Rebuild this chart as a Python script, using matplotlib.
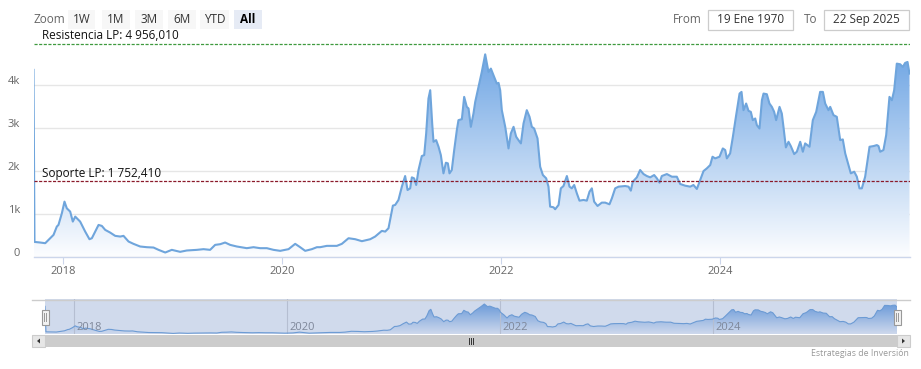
import numpy as np
import matplotlib
matplotlib.use("Agg")
import matplotlib.pyplot as plt
from matplotlib.patches import Rectangle, Polygon
from matplotlib.transforms import ScaledTranslation

plt.rcParams['font.family'] = ['Open Sans', 'DejaVu Sans']

# ---------------- data (decimal year, price) ----------------
years_a = [2017.729, 2017.738, 2017.790, 2017.836, 2017.881, 2017.912, 2017.942, 2017.957, 2017.988, 2018.012,
           2018.033, 2018.064, 2018.088, 2018.110, 2018.155, 2018.201, 2018.240, 2018.262, 2018.323, 2018.353,
           2018.384, 2018.429, 2018.475, 2018.521, 2018.551, 2018.597, 2018.642, 2018.703, 2018.764, 2018.825,
           2018.871, 2018.932, 2018.992, 2019.068, 2019.129, 2019.221, 2019.282, 2019.342, 2019.388, 2019.434,
           2019.479, 2019.525, 2019.586, 2019.677, 2019.738, 2019.799, 2019.860, 2019.921, 2019.982, 2020.058,
           2020.119, 2020.164, 2020.210, 2020.271, 2020.317]
values_a = [4350, 340, 326, 310, 426, 504, 698, 736, 1008, 1279,
            1124, 1047, 814, 930, 814, 581, 403, 426, 736, 713,
            620, 558, 481, 465, 481, 349, 295, 233, 217, 209,
            155, 93, 155, 109, 140, 155, 171, 155, 271, 287,
            326, 271, 233, 194, 217, 194, 194, 155, 132, 171,
            295, 217, 132, 171, 217]

years_b = [2020.347, 2020.408, 2020.499, 2020.545, 2020.606, 2020.667, 2020.728, 2020.804, 2020.849, 2020.910,
           2020.941, 2020.971, 2021.011, 2021.032, 2021.062, 2021.093, 2021.123, 2021.145, 2021.169, 2021.184,
           2021.205, 2021.224, 2021.245, 2021.275, 2021.297, 2021.315, 2021.336, 2021.352, 2021.370, 2021.382,
           2021.406, 2021.428, 2021.449, 2021.473, 2021.495, 2021.513, 2021.528, 2021.549, 2021.571, 2021.595,
           2021.610, 2021.641, 2021.662, 2021.686, 2021.702, 2021.723, 2021.747, 2021.763, 2021.793, 2021.823,
           2021.854, 2021.884, 2021.906, 2021.930, 2021.960, 2021.976, 2021.991, 2022.006, 2022.037, 2022.067,
           2022.088, 2022.113, 2022.137, 2022.158, 2022.180, 2022.204, 2022.234, 2022.259, 2022.280, 2022.301,
           2022.332, 2022.356, 2022.381, 2022.411, 2022.432, 2022.447, 2022.478, 2022.493, 2022.524, 2022.545,
           2022.569, 2022.600, 2022.624, 2022.645, 2022.667, 2022.691, 2022.715, 2022.752, 2022.782, 2022.807,
           2022.828, 2022.849, 2022.880, 2022.919, 2022.950, 2022.989, 2023.011, 2023.041, 2023.072]
values_b = [217, 248, 248, 295, 426, 403, 357, 403, 465, 597,
            581, 659, 1186, 1202, 1318, 1628, 1876, 1550, 1589, 1845,
            1822, 1667, 2016, 2341, 2364, 2868, 3682, 3876, 3101, 2674,
            2713, 2558, 2364, 1938, 2186, 2171, 1938, 2016, 2481, 2946,
            3178, 3202, 3721, 3488, 3450, 3023, 3333, 3605, 3953, 4302,
            4713, 4302, 4380, 4225, 4031, 4047, 3876, 3411, 3023, 2519,
            2868, 3023, 2791, 2713, 2636, 3101, 3411, 3256, 3023, 2984,
            2752, 2093, 1899, 1822, 1628, 1163, 1147, 1101, 1202, 1589,
            1643, 1876, 1628, 1589, 1667, 1473, 1302, 1318, 1302, 1512,
            1589, 1279, 1178, 1256, 1256, 1217, 1357, 1589, 1628]

years_c = [2023.132, 2023.163, 2023.184, 2023.202, 2023.239, 2023.269, 2023.300, 2023.330, 2023.361, 2023.397,
           2023.422, 2023.446, 2023.467, 2023.513, 2023.559, 2023.604, 2023.635, 2023.680, 2023.726, 2023.756,
           2023.787, 2023.817, 2023.848, 2023.878, 2023.909, 2023.930, 2023.954, 2023.994, 2024.024, 2024.046,
           2024.061, 2024.091, 2024.116, 2024.146, 2024.177, 2024.195, 2024.213, 2024.237, 2024.259, 2024.280,
           2024.298, 2024.320, 2024.335, 2024.359, 2024.381, 2024.396, 2024.426, 2024.450, 2024.472, 2024.493,
           2024.511, 2024.542, 2024.563, 2024.578, 2024.600, 2024.624, 2024.645, 2024.676, 2024.700, 2024.731,
           2024.755, 2024.776, 2024.816, 2024.846, 2024.877, 2024.913, 2024.938, 2024.959, 2024.989, 2025.005,
           2025.035, 2025.065, 2025.096, 2025.120, 2025.142, 2025.172, 2025.193, 2025.224, 2025.248, 2025.272,
           2025.294, 2025.324, 2025.364, 2025.400, 2025.431, 2025.446, 2025.461, 2025.491, 2025.516, 2025.546,
           2025.568, 2025.589, 2025.613, 2025.644, 2025.668, 2025.689, 2025.711, 2025.729]
values_c = [1643, 1628, 1535, 1744, 1845, 2016, 1922, 1876, 1845, 1899,
            1822, 1721, 1876, 1922, 1860, 1860, 1690, 1651, 1628, 1667,
            1574, 1783, 1992, 2054, 2132, 2326, 2287, 2326, 2519, 2481,
            2287, 2403, 2791, 3295, 3798, 3837, 3411, 3566, 3395, 3372,
            3178, 3217, 3062, 2984, 3643, 3798, 3783, 3566, 3488, 3372,
            3178, 3488, 3333, 3023, 2543, 2674, 2574, 2388, 2442, 2674,
            2442, 2636, 2558, 3178, 3372, 3837, 3837, 3566, 3411, 3488,
            3295, 3256, 2713, 2729, 2403, 2132, 1938, 1977, 1860, 1589,
            1589, 1860, 2558, 2574, 2597, 2574, 2442, 2481, 2829, 3721,
            3643, 3876, 4496, 4481, 4419, 4512, 4535, 4264]

resistance = 4956.010
support = 1752.410
resistance_label = "Resistencia LP: 4 956,010"
support_label = "Soporte LP: 1 752,410"
x_ticks = [2018, 2020, 2022, 2024]
x_tick_labels = ["2018", "2020", "2022", "2024"]
y_ticks = [0, 1000, 2000, 3000, 4000]
y_tick_labels = ["0", "1k", "2k", "3k", "4k"]
zoom_buttons = ["1W", "1M", "3M", "6M", "YTD", "All"]
date_from = "19 Ene 1970"
date_to = "22 Sep 2025"
credits = "Estrategias de Inversión"

years = np.array(years_a + years_b + years_c)
values = np.array(values_a + values_b + values_c)

W, H = 921, 369
fig = plt.figure(figsize=(W / 100, H / 100), dpi=100)
fig.patch.set_facecolor('white')


def px_rect(x0, y0, x1, y1):
    return [x0 / W, 1 - y1 / H, (x1 - x0) / W, (y1 - y0) / H]


LINE = '#6fa5dc'
TOP = np.array([112, 166, 228]) / 255
BOT = np.array([252, 253, 255]) / 255


def gradient_fill(ax, x, y, ymax, alpha_top=1.0):
    poly = ax.fill_between(x, 0, y, color='none', lw=0)
    n = 256
    t = np.linspace(0, 1, n)[:, None]  # 0 top -> 1 bottom
    col = TOP[None, :] * (1 - t) + BOT[None, :] * t
    img = col[:, None, :]
    im = ax.imshow(img, extent=[x.min(), x.max(), 0, ymax], aspect='auto',
                   origin='upper', zorder=1, interpolation='bilinear')
    path = poly.get_paths()[0]
    im.set_clip_path(path, transform=ax.transData)
    return im


# ---------------- main chart ----------------
x0, x1 = years.min(), years.max()
ax = fig.add_axes(px_rect(33.5, 42, 909.5, 256.5))
ax.set_xlim(x0, x1)
ax.set_ylim(0, 5000)
gradient_fill(ax, years, values, values.max())
ax.plot(years, values, color=LINE, lw=1.5, zorder=3, solid_joinstyle='round')

for s in ['top', 'right', 'left']:
    ax.spines[s].set_visible(False)
ax.spines['bottom'].set_color('#ccd6eb')
ax.spines['bottom'].set_linewidth(1.0)
ax.set_yticks(y_ticks)
ax.set_yticklabels(y_tick_labels)
ax.set_xticks(x_ticks)
ax.set_xticklabels(x_tick_labels)
ax.tick_params(axis='y', length=0, pad=9.5, labelsize=8, labelcolor='#666666')
ax.tick_params(axis='x', length=5, width=0.8, color='#ccd6eb', pad=1.5, labelsize=8, labelcolor='#666666')
for lab in ax.get_yticklabels():
    lab.set_transform(lab.get_transform() + ScaledTranslation(0, 4.5 / 100, fig.dpi_scale_trans))
ax.grid(axis='y', color='#e6e6e6', lw=1.0, zorder=0)
ax.set_axisbelow(True)

ax.axhline(resistance, color='#3f9a3f', lw=0.9, ls=(0, (2.5, 1.2)), zorder=4)
ax.axhline(support, color='#8b1a2a', lw=0.9, ls=(0, (2.5, 1.2)), zorder=4)
ax.annotate(resistance_label, xy=(0, resistance), xycoords=('axes fraction', 'data'),
            xytext=(8.5, 1.5), textcoords='offset pixels', ha='left', va='bottom',
            fontsize=8.5, color='#111111', zorder=5)
ax.annotate(support_label, xy=(0, support), xycoords=('axes fraction', 'data'),
            xytext=(8.5, 1.5), textcoords='offset pixels', ha='left', va='bottom',
            fontsize=8.5, color='#111111', zorder=5)

# ---------------- navigator ----------------
nav = fig.add_axes(px_rect(45, 299, 897, 334))
nav.set_xlim(x0, x1)
nav.set_ylim(0, 5500)
gradient_fill(nav, years, values, values.max())
nav.plot(years, values, color=LINE, lw=0.8, zorder=3)
nav.set_xticks([])
nav.set_yticks([])
for s in nav.spines.values():
    s.set_visible(False)
for xt, lab in zip(x_ticks, x_tick_labels):
    nav.axvline(xt, color='#d8d8d8', lw=0.8, zorder=2)
    nav.annotate(lab, xy=(xt, 0), xycoords=('data', 'axes fraction'), xytext=(3, 7),
                 textcoords='offset pixels', ha='left', va='center', fontsize=8,
                 color='#888888', zorder=4)

# ---------------- UI overlay ----------------
ui = fig.add_axes([0, 0, 1, 1], zorder=10)
ui.set_xlim(0, W)
ui.set_ylim(H, 0)
ui.axis('off')
ui.patch.set_alpha(0)

# navigator mask + outline
ui.add_patch(Rectangle((45, 299), 852, 35, facecolor=(102 / 255, 133 / 255, 194 / 255, 0.3), lw=0))
ui.plot([32, 910], [299.5, 299.5], color='#cccccc', lw=1)
for hx in (45, 897):
    ui.add_patch(Rectangle((hx - 3.5, 309.5), 7, 15, facecolor='#f2f2f2', edgecolor='#999999', lw=0.8))
    ui.plot([hx - 1, hx - 1], [313, 321], color='#999999', lw=0.7)
    ui.plot([hx + 1, hx + 1], [313, 321], color='#999999', lw=0.7)

# scrollbar
ui.add_patch(Rectangle((32, 335), 878, 12, facecolor='#f2f2f2', lw=0))
ui.add_patch(Rectangle((45, 335), 852, 12, facecolor='#cccccc', lw=0))
ui.add_patch(Rectangle((32, 335), 13, 12, facecolor='#e6e6e6', edgecolor='#cccccc', lw=0.8))
ui.add_patch(Rectangle((897, 335), 13, 12, facecolor='#e6e6e6', edgecolor='#cccccc', lw=0.8))
ui.add_patch(Polygon([[40, 338.5], [40, 343.5], [37, 341]], closed=True, color='#333333', lw=0))
ui.add_patch(Polygon([[902, 338.5], [902, 343.5], [905, 341]], closed=True, color='#333333', lw=0))
for gx in (469, 471, 473):
    ui.plot([gx, gx], [338, 344], color='#333333', lw=0.7)

ui.text(909, 354, credits, ha='right', va='center', fontsize=6.3, color='#999999')

# range selector
ui.text(33, 19.5, "Zoom", ha='left', va='center', fontsize=8.5, color='#666666')
btn_x = [68, 102, 135, 168, 200, 234]
btn_w = [27, 28, 28, 28, 29, 28]
for bx, bw, lab in zip(btn_x, btn_w, zoom_buttons):
    sel = lab == "All"
    ui.add_patch(Rectangle((bx, 10), bw, 19, facecolor='#e6ebf5' if sel else '#f7f7f7', lw=0))
    ui.text(bx + bw / 2, 19.5, lab, ha='center', va='center', fontsize=8.5,
            color='#000000' if sel else '#333333', fontweight='bold' if sel else 'normal')

ui.text(702, 19.5, "From", ha='right', va='center', fontsize=8.5, color='#666666')
ui.add_patch(Rectangle((708, 10), 85, 20, facecolor='white', edgecolor='#cccccc', lw=0.9))
ui.text(750.5, 19.5, date_from, ha='center', va='center', fontsize=8.5, color='#333333')
ui.text(817, 19.5, "To", ha='right', va='center', fontsize=8.5, color='#666666')
ui.add_patch(Rectangle((824, 10), 85, 20, facecolor='white', edgecolor='#cccccc', lw=0.9))
ui.text(866.5, 19.5, date_to, ha='center', va='center', fontsize=8.5, color='#333333')

fig.savefig("out.png", dpi=100, facecolor='white')
